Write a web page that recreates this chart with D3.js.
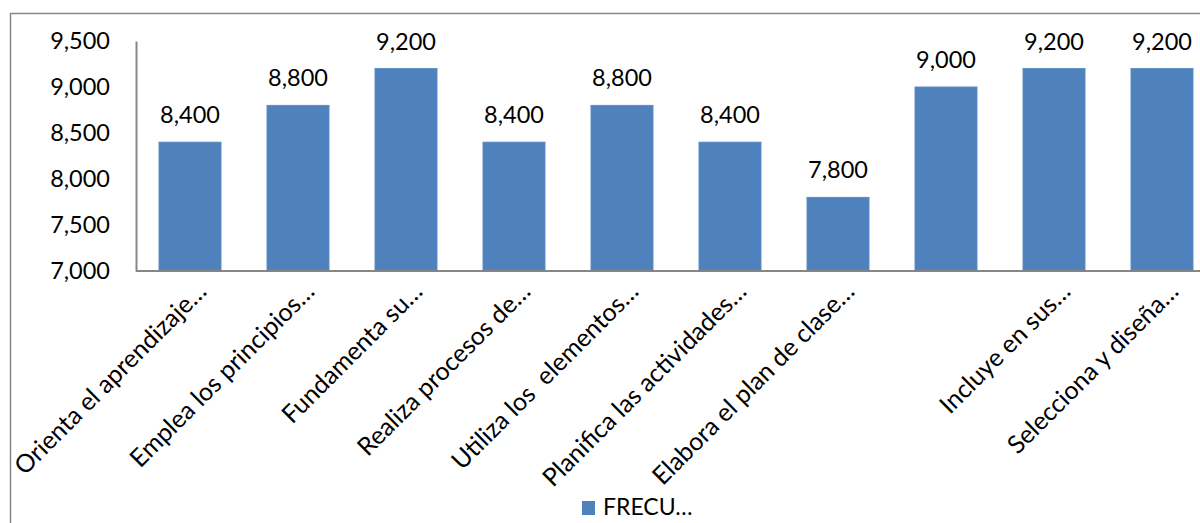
<!DOCTYPE html>
<html>
<head>
<meta charset="utf-8">
<script src="https://cdn.jsdelivr.net/npm/d3@7"></script>
<style>
  html, body { margin: 0; padding: 0; background: #fff; }
  svg { display: block; font-family: Lato, "Open Sans", sans-serif; }
</style>
</head>
<body>
<svg id="chart" width="1200" height="523"></svg>
<script>
// Indicadores evaluados y su frecuencia
const categories = [
  "Orienta el aprendizaje…",
  "Emplea los principios…",
  "Fundamenta su…",
  "Realiza procesos de…",
  "Utiliza los  elementos…",
  "Planifica las actividades…",
  "Elabora el plan de clase…",
  "",
  "Incluye en sus…",
  "Selecciona y diseña…"
];
const values = [8400, 8800, 9200, 8400, 8800, 8400, 7800, 9000, 9200, 9200];
const yTicks = [7000, 7500, 8000, 8500, 9000, 9500];
const seriesName = "FRECU…";

const barColor = "#4F81BD";
const lineColor = "#868686";

const svg = d3.select("#chart");

// outer chart frame (runs past the right and bottom edges)
svg.append("rect")
  .attr("x", 10.5).attr("y", 13.5)
  .attr("width", 1300).attr("height", 600)
  .attr("fill", "none").attr("stroke", lineColor).attr("stroke-width", 1.5);

const plot = { left: 136, right: 1216, top: 41, bottom: 271 };

const x = d3.scaleBand()
  .domain(d3.range(categories.length))
  .range([plot.left, plot.right])
  .paddingInner(46 / 108)
  .paddingOuter(23 / 108);

const y = d3.scaleLinear()
  .domain([7000, 9500])
  .range([plot.bottom, plot.top]);

// bars
svg.append("g").selectAll("rect")
  .data(values)
  .join("rect")
  .attr("x", (d, i) => x(i))
  .attr("width", x.bandwidth())
  .attr("y", d => y(d))
  .attr("height", d => y(7000) - y(d))
  .attr("fill", barColor)
  .attr("stroke", "#5b8bc4")
  .attr("stroke-width", 1);

// y axis
const yAxis = svg.append("g")
  .attr("transform", `translate(${plot.left},0)`)
  .call(d3.axisLeft(y).tickValues(yTicks).tickSize(0).tickPadding(26)
    .tickFormat(d3.format(",")));
yAxis.select(".domain").attr("stroke", lineColor).attr("stroke-width", 2);
yAxis.selectAll("text")
  .attr("font-size", 23.5)
  .attr("fill", "#000")
  .attr("font-family", "Lato, 'Open Sans', sans-serif");

// x axis line
svg.append("line")
  .attr("x1", plot.left).attr("x2", 1300)
  .attr("y1", plot.bottom).attr("y2", plot.bottom)
  .attr("stroke", lineColor).attr("stroke-width", 2);

// value labels
svg.append("g").selectAll("text")
  .data(values)
  .join("text")
  .attr("x", (d, i) => x(i) + x.bandwidth() / 2)
  .attr("y", d => y(d) - 19)
  .attr("text-anchor", "middle")
  .attr("font-size", 23.5)
  .attr("fill", "#000")
  .text(d => d3.format(",")(d));

// rotated category labels
svg.append("g").selectAll("text")
  .data(categories)
  .join("text")
  .attr("transform", (d, i) =>
    `translate(${x(i) + x.bandwidth() / 2 + 18},${plot.bottom + 22}) rotate(-45)`)
  .attr("text-anchor", "end")
  .attr("font-size", 25)
  .attr("fill", "#000")
  .style("white-space", "pre")
  .text(d => d);

// legend
const legend = svg.append("g").attr("transform", "translate(582,501)");
legend.append("rect")
  .attr("width", 13).attr("height", 14)
  .attr("fill", barColor);
legend.append("text")
  .attr("x", 21).attr("y", 14)
  .attr("font-size", 23)
  .attr("fill", "#000")
  .text(seriesName);
</script>
</body>
</html>
